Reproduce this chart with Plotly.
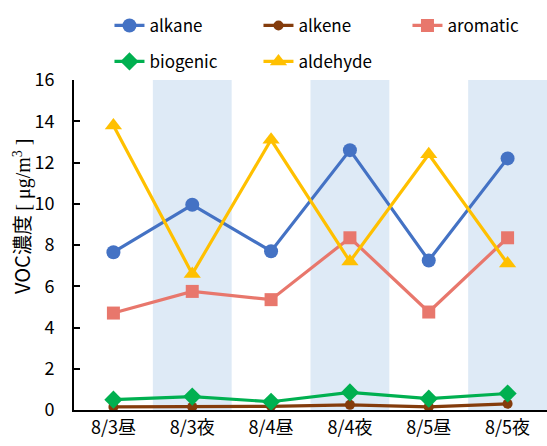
import plotly.graph_objects as go

categories = ["8/3昼", "8/3夜", "8/4昼", "8/4夜", "8/5昼", "8/5夜"]
alkane = [7.65, 9.95, 7.7, 12.6, 7.25, 12.2]
alkene = [0.15, 0.15, 0.18, 0.25, 0.15, 0.3]
aromatic = [4.7, 5.75, 5.35, 8.35, 4.75, 8.35]
biogenic = [0.5, 0.65, 0.4, 0.85, 0.55, 0.8]
aldehyde = [13.8, 6.6, 13.1, 7.2, 12.4, 7.1]
y_ticks = [0, 2, 4, 6, 8, 10, 12, 14, 16]
night_idx = [1, 3, 5]

FONT = "Noto Sans CJK JP"

series = [
    ("alkane", alkane, "#4472C4", "circle", 14, "legend"),
    ("alkene", alkene, "#843C0C", "circle", 10, "legend"),
    ("aromatic", aromatic, "#E8776C", "square", 13, "legend"),
    ("biogenic", biogenic, "#00B050", "diamond", 14, "legend2"),
    ("aldehyde", aldehyde, "#FFC000", "triangle-up", 15, "legend2"),
]

fig = go.Figure()
for name, vals, color, sym, size, lg in series:
    fig.add_trace(go.Scatter(
        x=categories, y=vals, name=name, mode="lines+markers",
        line=dict(color=color, width=3.2),
        marker=dict(symbol=sym, size=size, color=color),
        legend=lg,
    ))

shapes = []
for i in night_idx:
    shapes.append(dict(type="rect", xref="x", yref="y domain", x0=i - 0.5, x1=i + 0.5,
                       y0=0, y1=1, fillcolor="#DEEAF6", line=dict(width=0), layer="below"))

legend_common = dict(orientation="h", xanchor="left", yanchor="middle",
                     entrywidth=104, entrywidthmode="pixels",
                     font=dict(family=FONT, size=17, color="#000"),
                     bgcolor="rgba(0,0,0,0)", borderwidth=0)

title_text = ("VOC濃度 <span style='font-family:Liberation Serif;font-size:20px'>[ μg/m<sup>3</sup> ]</span>")

fig.update_layout(
    width=547, height=446,
    margin=dict(l=74, r=0, t=80, b=36, autoexpand=False),
    paper_bgcolor="white", plot_bgcolor="white",
    font=dict(family=FONT, size=17, color="#000"),
    shapes=shapes,
    legend=dict(x=0.075, y=1.164, **legend_common),
    legend2=dict(x=0.075, y=1.055, **legend_common),
    xaxis=dict(range=[-0.5, 5.5], showline=True, linecolor="black", linewidth=2,
               ticks="", showgrid=False, tickfont=dict(size=18, family=FONT), automargin=False),
    yaxis=dict(range=[0, 16], tickvals=y_ticks, showline=True, linecolor="black", linewidth=2,
               ticks="inside", ticklen=6, tickwidth=2, tickcolor="black", showgrid=False,
               zeroline=False, tickfont=dict(size=18, family=FONT), ticklabelstandoff=14,
               automargin=False),
    annotations=[dict(text=title_text, xref="paper", yref="paper", x=-53/473, y=1 - 136/330,
                      xanchor="center", yanchor="middle", textangle=-90, showarrow=False,
                      font=dict(size=20, family=FONT, color="#000"))],
)

fig.write_html("out.html")
